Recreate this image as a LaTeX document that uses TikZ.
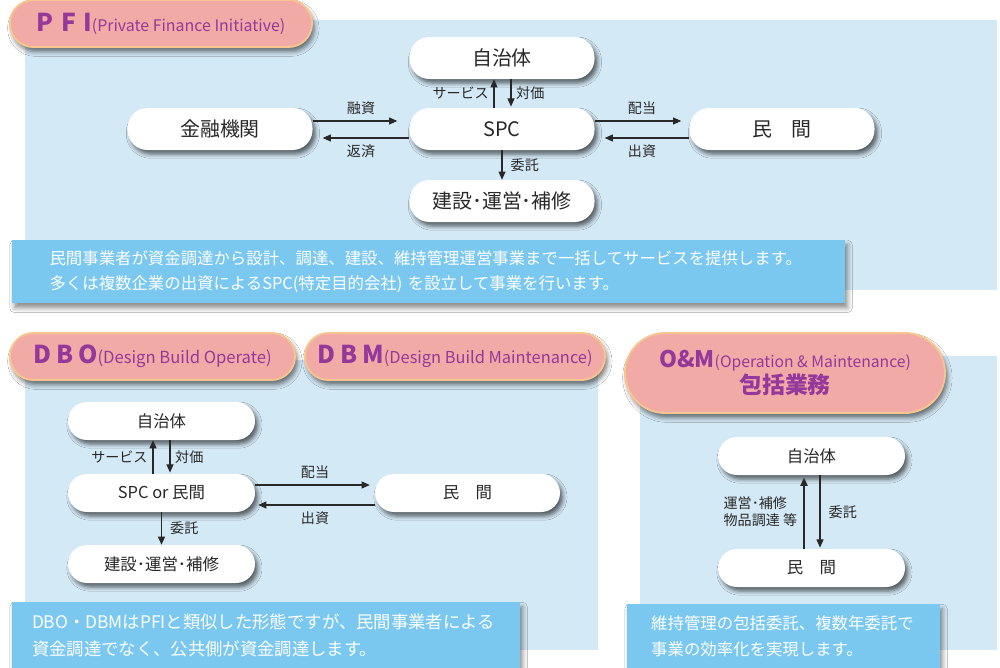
\documentclass[tikz,border=0pt]{standalone}
\usepackage{fontspec}
\setmainfont{Noto Sans CJK JP}
\usetikzlibrary{shadows.blur,arrows.meta}
\definecolor{panel}{RGB}{212,233,246}
\definecolor{note}{RGB}{122,200,240}
\definecolor{pill}{RGB}{242,170,166}
\definecolor{pillborder}{RGB}{246,198,142}
\definecolor{purp}{RGB}{148,56,155}
\definecolor{txt}{RGB}{40,40,40}
\tikzset{
  box/.style={rectangle, rounded corners=0.6cm, fill=white, text=txt,
    minimum width=5.55cm, minimum height=1.26cm, inner sep=0pt,
    blur shadow={shadow xshift=2.5pt, shadow yshift=-3.5pt, shadow blur radius=3.5pt, shadow opacity=60},
    font=\fontsize{17}{20}\selectfont},
  sbox/.style={box, rounded corners=0.57cm, minimum width=5.61cm, minimum height=1.14cm,
    font=\fontsize{14}{17}\selectfont},
  pillhead/.style={rectangle, fill=pill, draw=pillborder, line width=1.6pt, text=purp, inner sep=0pt,
    blur shadow={shadow xshift=2pt, shadow yshift=-4pt, shadow blur radius=4pt, shadow opacity=55}},
  notebox/.style={rectangle, fill=note, text=white, align=left, anchor=north west, inner ysep=0pt,
    blur shadow={shadow xshift=2pt, shadow yshift=-4pt, shadow blur radius=4pt, shadow opacity=45},
    font=\fontsize{14}{21}\selectfont},
  arr/.style={-{Triangle[length=7pt,width=6pt]}, line width=0.9pt, draw=txt},
  lab/.style={font=\fontsize{12}{14.5}\selectfont, text=txt, inner sep=1pt}
}
\begin{document}
\begin{tikzpicture}[x=0.03cm,y=-0.03cm]
\useasboundingbox[fill=white] (0,0) rectangle (1000,668);

% panels
\fill[panel] (25,20) rectangle (997,290);
\fill[panel] (25,360) rectangle (598,650);
\fill[panel] (640,356) rectangle (997,650);

% ===== PFI =====
\node[pillhead, minimum width=9.06cm, minimum height=1.41cm, rounded corners=0.7cm] (hpfi) at (161,23.5)
  {{\fontsize{21}{24}\selectfont\bfseries P\hspace{0.3em}F\hspace{0.3em}I}{\fontsize{13.6}{15}\selectfont (Private Finance Initiative)}};

\node[box] (jt) at (502,58) {自治体};
\node[box] (spc) at (502,129) {SPC};
\node[box] (ken) at (502,201) {建設･運営･補修};
\node[box] (kin) at (220,129) {金融機関};
\node[box] (min) at (782,129) {民　間};

\draw[arr, shorten >=0.36cm] ([yshift=0.24cm]kin.east) -- ([yshift=0.24cm]spc.west)
  node[lab, midway, above=4pt] {融資};
\draw[arr, shorten >=0.3cm] ([yshift=-0.27cm]spc.west) -- ([yshift=-0.27cm]kin.east)
  node[lab, midway, below=4pt] {返済};
\draw[arr, shorten >=0.24cm] ([yshift=0.24cm]spc.east) -- ([yshift=0.24cm]min.west)
  node[lab, midway, above=4pt] {配当};
\draw[arr, shorten >=0.3cm] ([yshift=-0.27cm]min.west) -- ([yshift=-0.27cm]spc.east)
  node[lab, midway, below=4pt] {出資};
\draw[arr] ([xshift=-0.24cm]spc.north) -- ([xshift=-0.24cm]jt.south)
  node[lab, midway, left=3pt] {サービス};
\draw[arr, shorten >=1pt] ([xshift=0.27cm]jt.south) -- ([xshift=0.27cm]spc.north)
  node[lab, midway, right=3pt] {対価};
\draw[arr] (spc.south) -- (ken.north) node[lab, midway, right=6pt] {委託};

\node[notebox, minimum width=24.99cm, minimum height=1.89cm, text width=22.75cm, inner xsep=1.1cm] (npfi) at (12,240)
  {民間事業者が資金調達から設計、調達、建設、維持管理運営事業まで一括してサービスを提供します。\\
   多くは複数企業の出資によるSPC(特定目的会社) を設立して事業を行います。};

% ===== DBO / DBM =====
\node[pillhead, minimum width=8.55cm, minimum height=1.41cm, rounded corners=0.7cm] (hdbo) at (152.5,356.5)
  {{\fontsize{21}{24}\selectfont\bfseries D\hspace{0.2em}B\hspace{0.2em}O}{\fontsize{14.2}{16}\selectfont(Design Build Operate)}};
\node[pillhead, minimum width=9cm, minimum height=1.41cm, rounded corners=0.7cm] (hdbm) at (455,356.5)
  {{\fontsize{21}{24}\selectfont\bfseries D\hspace{0.2em}B\hspace{0.2em}M}{\fontsize{14}{16}\selectfont(Design Build Maintenance)}};

\node[sbox] (jt2) at (161.5,421) {自治体};
\node[sbox] (spc2) at (161.5,493) {SPC or 民間};
\node[sbox] (ken2) at (161.5,564) {建設･運営･補修};
\node[sbox, minimum width=5.55cm] (min2) at (467.5,493) {民　間};

\draw[arr, line width=1.3pt] ([xshift=-0.255cm]spc2.north) -- ([xshift=-0.255cm]jt2.south)
  node[lab, midway, left=3pt] {サービス};
\draw[arr, shorten >=1pt] ([xshift=0.255cm]jt2.south) -- ([xshift=0.255cm]spc2.north)
  node[lab, midway, right=3pt] {対価};
\draw[arr, shorten >=0.15cm] ([yshift=0.24cm]spc2.east) -- ([yshift=0.24cm]min2.west)
  node[lab, midway, above=4pt] {配当};
\draw[arr, line width=1.1pt, shorten >=0.09cm] ([yshift=-0.36cm]min2.west) -- ([yshift=-0.36cm]spc2.east)
  node[lab, midway, below=4pt] {出資};
\draw[arr] (spc2.south) -- (ken2.north) node[lab, midway, right=6pt] {委託};

\node[notebox, minimum width=15.24cm, minimum height=1.98cm, text width=14.05cm, inner xsep=0.595cm, font=\fontsize{14.8}{22.5}\selectfont] (ndbo) at (12,602)
  {DBO・DBMはPFIと類似した形態ですが、民間事業者による\\
   資金調達でなく、公共側が資金調達します。};

% ===== O&M =====
\node[pillhead, minimum width=9.6cm, minimum height=2.4cm, rounded corners=1.2cm, align=center] (hom) at (785,373)
  {{\fontsize{19.5}{22}\selectfont\bfseries O\&M}{\fontsize{13.4}{15}\selectfont(Operation \& Maintenance)}\\[1pt]
   {\fontsize{19.5}{22}\selectfont\bfseries 包括業務}};

\node[sbox] (jt3) at (811.5,456) {自治体};
\node[sbox] (min3) at (811.5,568) {民　間};

\draw[arr, line width=1.8pt, shorten >=2pt] ([xshift=-0.225cm]min3.north) -- ([xshift=-0.225cm]jt3.south)
  node[lab, midway, left=4pt, align=left] {運営･補修\\物品調達 等};
\draw[arr, shorten >=1pt] ([xshift=0.255cm]jt3.south) -- ([xshift=0.255cm]min3.north)
  node[lab, midway, right=6pt] {委託};

\node[notebox, minimum width=9.39cm, minimum height=1.92cm, text width=7.95cm, inner xsep=0.72cm, font=\fontsize{14}{22.5}\selectfont] (nom) at (627,604)
  {維持管理の包括委託、複数年委託で\\
   事業の効率化を実現します。};
\end{tikzpicture}
\end{document}
